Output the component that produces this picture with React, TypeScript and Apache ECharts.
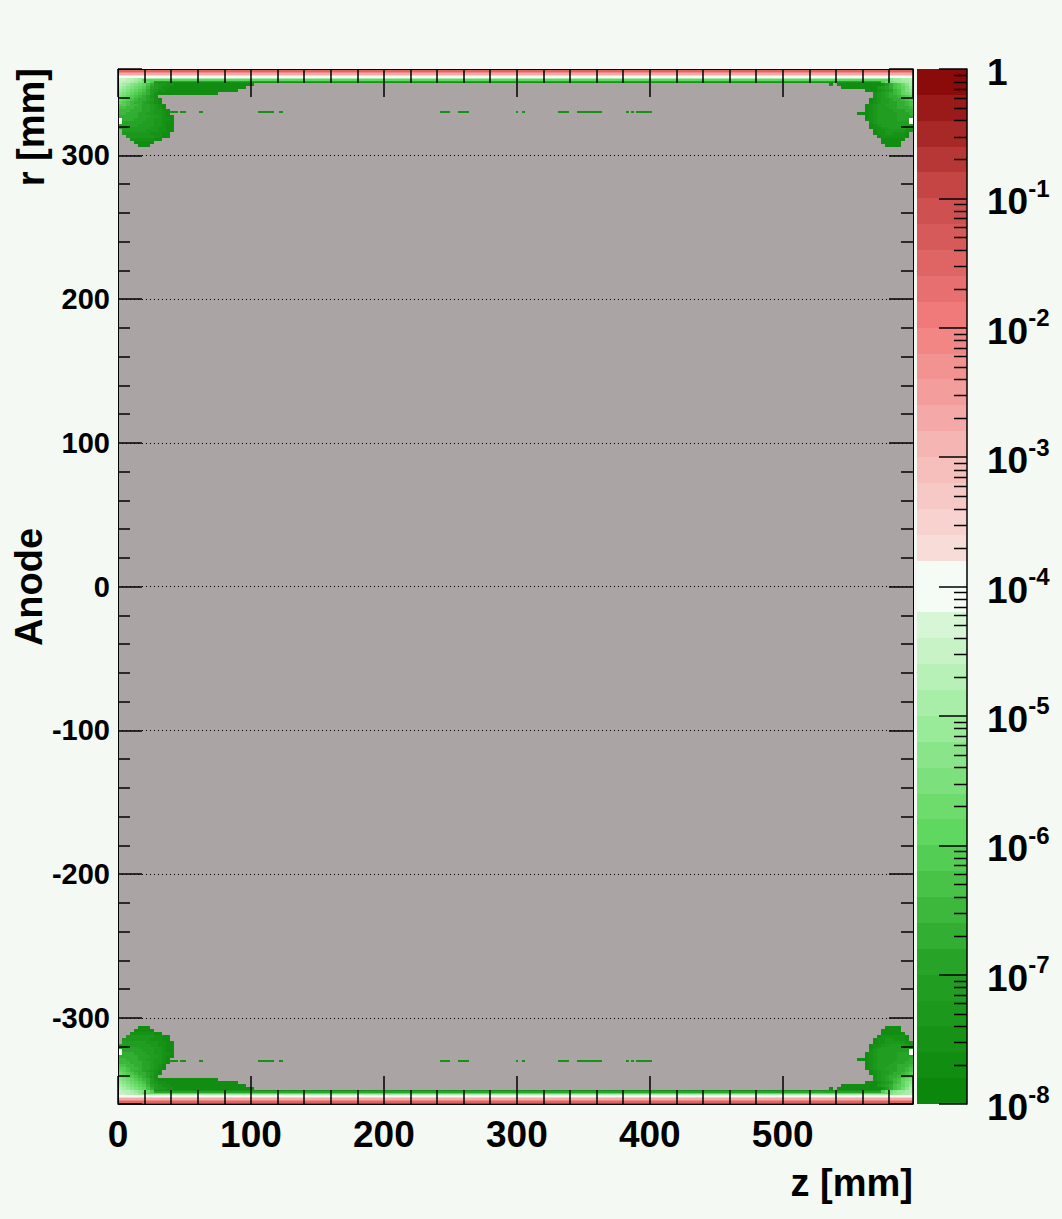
import React, { useEffect, useRef } from 'react';
import * as echarts from 'echarts';

// ---- axes ----
const Z_MIN = 0;
const Z_MAX = 598;
const R_MIN = -360;
const R_MAX = 360;

// ---- colour scale: 40 contour levels, 0.2 decade each, from 1e-8 to 1 ----
const LOG_MIN = -8;
const LOG_MAX = 0;
const LEVEL_STEP = 0.2;
const LEVEL_COUNT = 40;
const paletteAnchors: [number, string][] = [
  [0, '#0b870b'],
  [5, '#27a327'],
  [10, '#5ed85e'],
  [15, '#a8eea8'],
  [18, '#d6f6d6'],
  [19, '#f5fbf5'],
  [20, '#f5fbf5'],
  [21, '#f7dcd8'],
  [25, '#f5b5b3'],
  [30, '#f07a7a'],
  [35, '#c54545'],
  [39, '#8b0b0b'],
];
const colorbarDecades = [-8, -7, -6, -5, -4, -3, -2, -1];
const minorMultipliers = [2, 3, 4, 5, 6, 7, 8, 9];

// level characters used in the corner maps ('.' = no entry)
const levelChars = '0123456789abcdefghij';

// rows along the r = +360 edge (mirrored at r = -360), full z range
const stripEdges = [360, 359, 358, 357, 356, 355, 354, 353, 352, 351, 350];
const stripLevels = [36, 32, 29, 26, 22, 19, 15, 10, 5, 2];

// corner maps: rows of 2 mm going down from rTop, columns of 3 mm from z0
const leftCornerZ0 = 0;
const leftCornerRTop = 354;
const leftCornerRows = [
  'hhggfe',
  'hggfedcb9',
  'gfedcba864332211111111111111111111',
  'fedcba97543221111111111111111111',
  'edcba9864322111111111111111111',
  'dcba987642111111111111111',
  'cba9876532',
  'ba987665421',
  'a9876654321',
  '998776554321',
  '887766554321',
  '7776665543321',
  '7766655443321',
  '66666555443211',
  'j6665554433221',
  'j5555544433211',
  '55555444433211',
  '44444444332211',
  '.4444443332211',
  '.333333322211',
  '..33333332211',
  '...22222211',
  '....11111',
  '.....111',
];

const rightCornerZ0 = 526;
const rightCornerRTop = 354;
const rightCornerRows = [
  '..................deeffg',
  '................9bcdeeff',
  '...1.1111111111124689bdf',
  '......111111111345689ace',
  '............111234578acd',
  '..............2345678abc',
  '..............234566789a',
  '.............12344566789',
  '.............12344556678',
  '............123445556678',
  '............123444556667',
  '............123444455566',
  '..........11123444445556',
  '............123444445555',
  '............12344444555j',
  '.............2344444444j',
  '.............12344444443',
  '.............12233444432',
  '..............1223333322',
  '..............122332221',
  '...............12222221',
  '................111111',
  '................11111',
  '.................1111',
];

// short segments at r ≈ ±330
const dashR: [number, number] = [329.5, 331];
const dashZ: [number, number][] = [
  [38, 45], [47, 51], [61, 64], [105, 117], [121, 124],
  [242, 250], [256, 264], [299, 301], [304, 306], [331, 339],
  [345, 364], [382, 384], [386, 388], [390, 402],
];
const dashLevel = 2;

// ---- helpers ----
function hexToRgb(h: string): number[] {
  const n = parseInt(h.slice(1), 16);
  return [(n >> 16) & 255, (n >> 8) & 255, n & 255];
}
function buildPalette(): string[] {
  const out: string[] = [];
  for (let k = 0; k < LEVEL_COUNT; k++) {
    let i = 0;
    while (i < paletteAnchors.length - 2 && paletteAnchors[i + 1][0] < k) i++;
    const [k0, c0] = paletteAnchors[i];
    const [k1, c1] = paletteAnchors[i + 1];
    const t = k1 === k0 ? 0 : Math.min(1, Math.max(0, (k - k0) / (k1 - k0)));
    const a = hexToRgb(c0);
    const b = hexToRgb(c1);
    const rgb = a.map((v, j) => Math.round(v + (b[j] - v) * t));
    out.push(`rgb(${rgb[0]},${rgb[1]},${rgb[2]})`);
  }
  return out;
}

function buildCells(): number[][] {
  const cells: number[][] = [];
  const push = (z0: number, z1: number, r0: number, r1: number, level: number) => {
    cells.push([z0, z1, r0, r1, level]);
    cells.push([z0, z1, -r1, -r0, level]);
  };
  for (let i = 0; i < stripLevels.length; i++) {
    push(Z_MIN, Z_MAX, stripEdges[i + 1], stripEdges[i], stripLevels[i]);
  }
  const addCorner = (rows: string[], z0: number, rTop: number) => {
    rows.forEach((row, j) => {
      const r1 = rTop - 2 * j;
      for (let i = 0; i < row.length; i++) {
        const ch = row[i];
        if (ch === '.') continue;
        const za = z0 + 3 * i;
        if (za >= Z_MAX) continue;
        push(za, Math.min(za + 3, Z_MAX), r1 - 2, r1, levelChars.indexOf(ch));
      }
    });
  };
  addCorner(leftCornerRows, leftCornerZ0, leftCornerRTop);
  addCorner(rightCornerRows, rightCornerZ0, rightCornerRTop);
  dashZ.forEach(([a, b]) => push(a, b, dashR[0], dashR[1], dashLevel));
  return cells;
}

const FONT = '"Liberation Sans", Arial, sans-serif';
const BG = '#f4f9f4';

function rectItem(params: any, api: any) {
  const a = api.coord([api.value(0), api.value(3)]);
  const b = api.coord([api.value(1), api.value(2)]);
  const x0 = Math.round(a[0]);
  const x1 = Math.round(b[0]);
  const y0 = Math.round(a[1]);
  const y1 = Math.round(b[1]);
  return {
    type: 'rect',
    shape: { x: x0, y: y0, width: x1 - x0, height: y1 - y0 },
    style: { fill: api.visual('color') },
  };
}

export default function App() {
  const ref = useRef<HTMLDivElement>(null);

  useEffect(() => {
    document.body.style.margin = '0';
    document.body.style.background = BG;
    if (!ref.current) return;
    const chart = echarts.init(ref.current, undefined, { renderer: 'svg' });
    const palette = buildPalette();
    const cells = buildCells();
    const bandData = palette.map((_, k) => [0, 1, LOG_MIN + LEVEL_STEP * k, LOG_MIN + LEVEL_STEP * (k + 1), k]);
    const minorTicks: number[][] = [];
    colorbarDecades.forEach((d) => minorMultipliers.forEach((m) => minorTicks.push([d + Math.log10(m)])));

    const xTickCommon = {
      type: 'value' as const,
      gridIndex: 0,
      min: Z_MIN,
      max: Z_MAX,
      minInterval: 100,
      maxInterval: 100,
      z: 5,
      axisLine: { show: true, onZero: false, lineStyle: { color: '#000', width: 1 } },
      axisTick: { show: true, inside: true, length: 28, lineStyle: { color: '#000', width: 1.5 } },
      minorTick: { show: true, splitNumber: 5, length: 14, lineStyle: { color: '#000', width: 1.5 } },
      splitLine: { show: false },
    };
    const yTickCommon = {
      type: 'value' as const,
      gridIndex: 0,
      min: R_MIN,
      max: R_MAX,
      minInterval: 100,
      maxInterval: 100,
      splitNumber: 7,
      z: 5,
      axisLine: { show: true, onZero: false, lineStyle: { color: '#000', width: 1 } },
      axisTick: { show: true, inside: true, length: 24, lineStyle: { color: '#000', width: 1.5 } },
      minorTick: { show: true, splitNumber: 5, length: 12, lineStyle: { color: '#000', width: 1.5 } },
    };

    chart.setOption({
      animation: false,
      backgroundColor: BG,
      grid: [
        { left: 118, top: 69, width: 795, height: 1035, show: true, backgroundColor: '#aaa5a4', borderWidth: 0 },
        { left: 917, top: 69, width: 50, height: 1035, show: false },
      ],
      xAxis: [
        {
          ...xTickCommon,
          position: 'bottom',
          axisLabel: {
            show: true, showMaxLabel: false, margin: 12,
            color: '#000', fontFamily: FONT, fontWeight: 'bold', fontSize: 37,
          },
        },
        { ...xTickCommon, position: 'top', axisLabel: { show: false } },
        { type: 'value', gridIndex: 1, min: 0, max: 1, show: false },
      ],
      yAxis: [
        {
          ...yTickCommon,
          position: 'left',
          axisLabel: {
            show: true, showMinLabel: false, showMaxLabel: false, margin: 8,
            color: '#000', fontFamily: FONT, fontWeight: 'bold', fontSize: 29,
          },
          splitLine: {
            show: true, showMinLine: false, showMaxLine: false,
            lineStyle: { color: '#000', width: 1, type: [1, 3] },
          },
        },
        { ...yTickCommon, position: 'right', axisLabel: { show: false }, splitLine: { show: false } },
        {
          type: 'value',
          gridIndex: 1,
          position: 'right',
          min: LOG_MIN,
          max: LOG_MAX,
          interval: 1,
          z: 5,
          axisLine: { show: true, onZero: false, lineStyle: { color: '#000', width: 1.5 } },
          axisTick: { show: true, inside: true, length: 28, lineStyle: { color: '#000', width: 1.5 } },
          splitLine: { show: false },
          axisLabel: {
            show: true,
            margin: 20,
            color: '#000',
            formatter: (v: number) => (v === 0 ? '{b|1}' : `{b|10}{s|${v}}`),
            rich: {
              b: { fontFamily: FONT, fontWeight: 'bold', fontSize: 37, lineHeight: 44, verticalAlign: 'bottom', color: '#000' },
              s: { fontFamily: FONT, fontWeight: 'bold', fontSize: 24, lineHeight: 44, verticalAlign: 'top', color: '#000' },
            },
          },
        },
      ],
      visualMap: [
        {
          type: 'piecewise',
          show: false,
          dimension: 4,
          seriesIndex: [0, 1],
          pieces: palette.map((color, k) => ({ value: k, color })),
        },
      ],
      series: [
        {
          type: 'custom',
          name: 'field',
          xAxisIndex: 0,
          yAxisIndex: 0,
          clip: true,
          encode: { x: [0, 1], y: [2, 3] },
          renderItem: rectItem,
          data: cells,
          z: 2,
        },
        {
          type: 'custom',
          name: 'palette',
          xAxisIndex: 2,
          yAxisIndex: 2,
          encode: { x: [0, 1], y: [2, 3] },
          renderItem: rectItem,
          data: bandData,
          z: 2,
        },
        {
          type: 'custom',
          name: 'paletteMinorTicks',
          xAxisIndex: 2,
          yAxisIndex: 2,
          encode: { y: 0 },
          renderItem: (params: any, api: any) => {
            const p = api.coord([1, api.value(0)]);
            const y = Math.round(p[1]) + 0.5;
            return {
              type: 'line',
              shape: { x1: p[0] - 13, y1: y, x2: p[0], y2: y },
              style: { stroke: '#000', lineWidth: 1.5 },
            };
          },
          data: minorTicks,
          z: 6,
        },
      ],
      graphic: [
        {
          type: 'text', x: 913, y: 1183, z: 10,
          style: { text: 'z [mm]', fontFamily: FONT, fontWeight: 'bold', fontSize: 38, fill: '#000', align: 'right', verticalAlign: 'middle' },
        },
        {
          type: 'text', x: 31, y: 68, rotation: Math.PI / 2, z: 10,
          style: { text: 'r [mm]', fontFamily: FONT, fontWeight: 'bold', fontSize: 38, fill: '#000', align: 'right', verticalAlign: 'middle' },
        },
        {
          type: 'text', x: 29, y: 587, rotation: Math.PI / 2, z: 10,
          style: { text: 'Anode', fontFamily: FONT, fontWeight: 'bold', fontSize: 38, fill: '#000', align: 'center', verticalAlign: 'middle' },
        },
      ],
    });

    return () => chart.dispose();
  }, []);

  return <div ref={ref} style={{ width: 1062, height: 1219, background: BG }} />;
}
